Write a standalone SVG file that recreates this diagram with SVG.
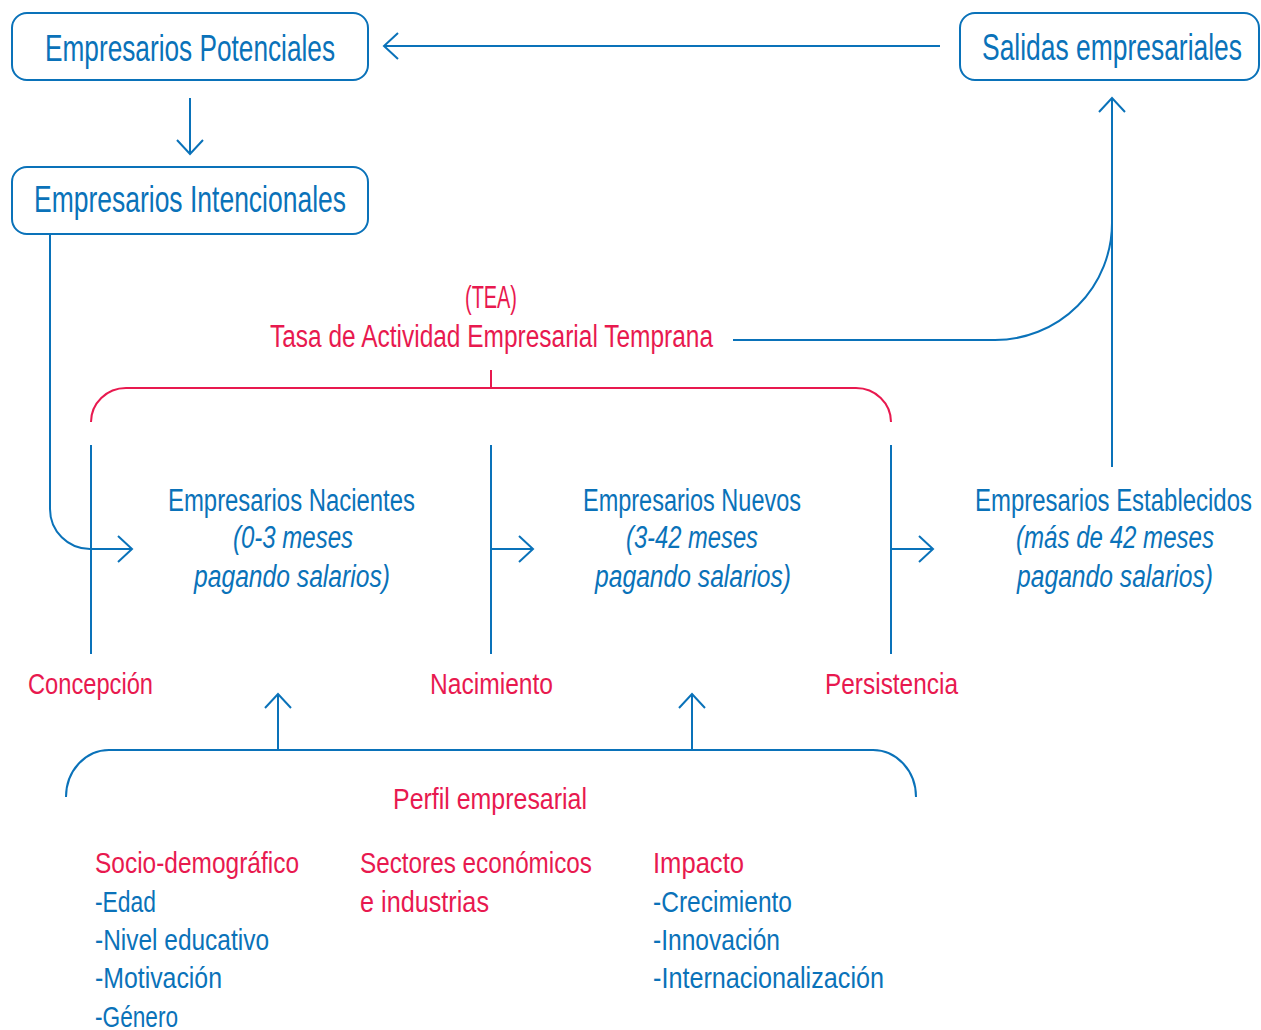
<svg xmlns="http://www.w3.org/2000/svg" width="1261" height="1030" viewBox="0 0 1261 1030">
<style>
text{font-family:"Liberation Sans Narrow","Liberation Sans",Arial,sans-serif;}
.b{fill:#0a72b9;}
.p{fill:#e8194f;}
.h{font-size:36px;}
.m{font-size:31px;}
.s{font-size:30px;}
.i{font-style:italic;}
.e{text-anchor:end;}
.box{fill:#fff;stroke:#0a72b9;stroke-width:2;}
.ln{fill:none;stroke:#0a72b9;stroke-width:2;}
.pl{fill:none;stroke:#e8194f;stroke-width:2;}
</style>
<defs>
<marker id="ah" markerUnits="userSpaceOnUse" orient="auto" markerWidth="30" markerHeight="30" refX="0" refY="0" viewBox="-16 -15 18 30" overflow="visible">
<path d="M-14,-13 L0,0 L-14,13" fill="none" stroke="#0a72b9" stroke-width="2"/>
</marker>
</defs>
<rect width="1261" height="1030" fill="#fff"/>
<g id="connectors">
<path class="ln" d="M940,46 H384" marker-end="url(#ah)"/>
<path class="ln" d="M190,98 V154" marker-end="url(#ah)"/>
<path class="ln" d="M50,234 V509 A40,40 0 0 0 90,549 H132" marker-end="url(#ah)"/>
<path class="ln" d="M733,340 H995 A117,117 0 0 0 1112,223"/>
<path class="ln" d="M1112,467 V98" marker-end="url(#ah)"/>
<path class="ln" d="M91,445 V654"/>
<path class="ln" d="M491,445 V654"/>
<path class="ln" d="M891,445 V654"/>
<path class="ln" d="M491,549 H533" marker-end="url(#ah)"/>
<path class="ln" d="M891,549 H933" marker-end="url(#ah)"/>
<path class="ln" d="M278,750 V694" marker-end="url(#ah)"/>
<path class="ln" d="M692,750 V694" marker-end="url(#ah)"/>
<path class="ln" d="M66,797 A43,47 0 0 1 109,750 H873 A43,47 0 0 1 916,797"/>
<path class="pl" d="M91,422 A35,34 0 0 1 126,388 H856 A35,34 0 0 1 891,422"/>
<path class="pl" d="M491,370 V388"/>
</g>
<g id="potenciales">
<rect class="box" x="12" y="13" width="356" height="67" rx="15"/>
<text class="b h" x="45" y="61" textLength="290" lengthAdjust="spacingAndGlyphs">Empresarios Potenciales</text>
</g>
<g id="salidas">
<rect class="box" x="960" y="13" width="299" height="67" rx="15"/>
<text class="b h e" x="1242" y="60" textLength="260" lengthAdjust="spacingAndGlyphs">Salidas empresariales</text>
</g>
<g id="intencionales">
<rect class="box" x="12" y="167" width="356" height="67" rx="15"/>
<text class="b h" x="34" y="212" textLength="312" lengthAdjust="spacingAndGlyphs">Empresarios Intencionales</text>
</g>
<g id="tea">
<text class="p m" x="465" y="308" textLength="52" lengthAdjust="spacingAndGlyphs">(TEA)</text>
<text class="p m" x="270" y="347" textLength="443" lengthAdjust="spacingAndGlyphs">Tasa de Actividad Empresarial Temprana</text>
</g>
<g id="nacientes">
<text class="b m" x="168" y="511" textLength="247" lengthAdjust="spacingAndGlyphs">Empresarios Nacientes</text>
<text class="b m i" x="233" y="548" textLength="120" lengthAdjust="spacingAndGlyphs">(0-3 meses</text>
<text class="b m i" x="194" y="587" textLength="196" lengthAdjust="spacingAndGlyphs">pagando salarios)</text>
</g>
<g id="nuevos">
<text class="b m" x="583" y="511" textLength="218" lengthAdjust="spacingAndGlyphs">Empresarios Nuevos</text>
<text class="b m i" x="626" y="548" textLength="132" lengthAdjust="spacingAndGlyphs">(3-42 meses</text>
<text class="b m i" x="595" y="587" textLength="196" lengthAdjust="spacingAndGlyphs">pagando salarios)</text>
</g>
<g id="establecidos">
<text class="b m e" x="1252" y="511" textLength="277" lengthAdjust="spacingAndGlyphs">Empresarios Establecidos</text>
<text class="b m i e" x="1214" y="548" textLength="198" lengthAdjust="spacingAndGlyphs">(más de 42 meses</text>
<text class="b m i e" x="1213" y="587" textLength="196" lengthAdjust="spacingAndGlyphs">pagando salarios)</text>
</g>
<g id="stages">
<text class="p s" x="28" y="694" textLength="125" lengthAdjust="spacingAndGlyphs">Concepción</text>
<text class="p s" x="430" y="694" textLength="123" lengthAdjust="spacingAndGlyphs">Nacimiento</text>
<text class="p s" x="825" y="694" textLength="133" lengthAdjust="spacingAndGlyphs">Persistencia</text>
</g>
<g id="perfil">
<text class="p s" x="393" y="809" textLength="194" lengthAdjust="spacingAndGlyphs">Perfil empresarial</text>
</g>
<g id="sociodemografico">
<text class="p s" x="95" y="873" textLength="204" lengthAdjust="spacingAndGlyphs">Socio-demográfico</text>
<text class="b s" x="95" y="912" textLength="61" lengthAdjust="spacingAndGlyphs">-Edad</text>
<text class="b s" x="95" y="950" textLength="174" lengthAdjust="spacingAndGlyphs">-Nivel educativo</text>
<text class="b s" x="95" y="988" textLength="127" lengthAdjust="spacingAndGlyphs">-Motivación</text>
<text class="b s" x="95" y="1027" textLength="83" lengthAdjust="spacingAndGlyphs">-Género</text>
</g>
<g id="sectores">
<text class="p s" x="360" y="873" textLength="232" lengthAdjust="spacingAndGlyphs">Sectores económicos</text>
<text class="p s" x="360" y="912" textLength="129" lengthAdjust="spacingAndGlyphs">e industrias</text>
</g>
<g id="impacto">
<text class="p s" x="653" y="873" textLength="91" lengthAdjust="spacingAndGlyphs">Impacto</text>
<text class="b s" x="653" y="912" textLength="139" lengthAdjust="spacingAndGlyphs">-Crecimiento</text>
<text class="b s" x="653" y="950" textLength="127" lengthAdjust="spacingAndGlyphs">-Innovación</text>
<text class="b s" x="653" y="988" textLength="231" lengthAdjust="spacingAndGlyphs">-Internacionalización</text>
</g>
</svg>
